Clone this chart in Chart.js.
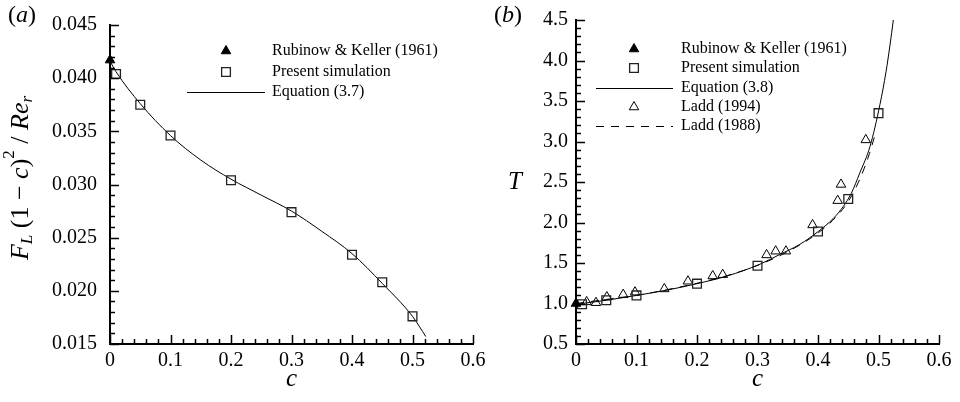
<!DOCTYPE html>
<html>
<head>
<meta charset="utf-8">
<script src="https://cdn.jsdelivr.net/npm/chart.js@4.4.1/dist/chart.umd.min.js"></script>
<style>
  html, body { margin: 0; padding: 0; background: #fff; }
  #wrap { position: relative; width: 960px; height: 402px; overflow: hidden; }
  #chartA { position: absolute; left: 0; top: 0; }
  #chartB { position: absolute; left: 480px; top: 0; }
</style>
</head>
<body>
<div id="wrap">
  <canvas id="chartA" width="500" height="402"></canvas>
  <canvas id="chartB" width="480" height="402"></canvas>
</div>
<script>
// ---- panel (a) ----
const rkA_c = [0];
const rkA_v = [0.0417];
const simA_c = [0.01, 0.05, 0.1, 0.2, 0.3, 0.4, 0.45, 0.5];
const simA_v = [0.0404, 0.0375, 0.0346, 0.0304, 0.0274, 0.0234, 0.0208, 0.0176];
const eqA_c = [0, 0.01, 0.05, 0.1, 0.15, 0.2, 0.25, 0.3, 0.35, 0.4, 0.45, 0.5, 0.522];
const eqA_v = [0.0416, 0.0406, 0.0376, 0.0346, 0.0323, 0.0305, 0.0290, 0.0275, 0.0256, 0.0235, 0.0207, 0.0176, 0.0157];
const xTicks = [0, 0.1, 0.2, 0.3, 0.4, 0.5, 0.6];
const yTicksA = [0.015, 0.020, 0.025, 0.030, 0.035, 0.040, 0.045];

// ---- panel (b) ----
const rkB_c = [0];
const rkB_v = [1.0];
const simB_c = [0.01, 0.05, 0.1, 0.2, 0.3, 0.4, 0.45, 0.5];
const simB_v = [0.99, 1.04, 1.10, 1.245, 1.465, 1.89, 2.29, 3.35];
const ladd94_c = [0.0176, 0.033, 0.051, 0.078, 0.0975, 0.146, 0.185, 0.226, 0.2425, 0.315, 0.33, 0.347, 0.391, 0.4325, 0.438, 0.479];
const ladd94_v = [1.02, 1.01, 1.08, 1.11, 1.14, 1.18, 1.275, 1.34, 1.356, 1.60, 1.646, 1.646, 1.97, 2.27, 2.47, 3.02];
const eqB_c = [0, 0.05, 0.1, 0.15, 0.2, 0.25, 0.304, 0.337, 0.37, 0.4005, 0.4253, 0.442, 0.455, 0.469, 0.486, 0.5025, 0.5124, 0.519, 0.5245];
const eqB_v = [0.99, 1.04, 1.10, 1.165, 1.245, 1.34, 1.485, 1.606, 1.73, 1.89, 2.05, 2.2, 2.36, 2.61, 2.94, 3.46, 3.86, 4.19, 4.5];
const ladd88_c = [0, 0.05, 0.1, 0.15, 0.2, 0.25, 0.3, 0.35, 0.4, 0.43, 0.45, 0.47, 0.485, 0.495];
const ladd88_v = [1.0, 1.05, 1.1, 1.17, 1.25, 1.345, 1.47, 1.64, 1.87, 2.07, 2.26, 2.55, 2.85, 3.1];
const yTicksB = [0.5, 1.0, 1.5, 2.0, 2.5, 3.0, 3.5, 4.0, 4.5];

const serif = "'Liberation Serif', 'DejaVu Serif', serif";

function pts(xs, ys) {
  return xs.map((x, i) => ({x: x, y: ys[i]}));
}

// draws a run of text pieces (for italics / sub / superscripts)
function drawRich(ctx, parts, cx, cy, rot) {
  ctx.save();
  ctx.translate(cx, cy);
  if (rot) ctx.rotate(rot);
  ctx.fillStyle = '#000';
  ctx.textBaseline = 'middle';
  ctx.textAlign = 'left';
  let w = 0;
  parts.forEach(p => {
    ctx.font = (p.it ? 'italic ' : '') + p.size + 'px ' + serif;
    p.w = ctx.measureText(p.t).width;
    w += p.w;
  });
  let x = -w / 2;
  parts.forEach(p => {
    ctx.font = (p.it ? 'italic ' : '') + p.size + 'px ' + serif;
    ctx.fillText(p.t, x, p.dy || 0);
    x += p.w;
  });
  ctx.restore();
}

const decor = {
  id: 'decor',
  afterDraw(chart, args, opts) {
    const ctx = chart.ctx;
    const xs = chart.scales.x, ys = chart.scales.y;
    ctx.save();
    ctx.strokeStyle = '#000';
    ctx.lineWidth = 1.5;
    ctx.beginPath();
    // inward ticks, major + minor
    const doTicks = (scale, n, horiz) => {
      const vals = scale.ticks.map(t => t.value);
      for (let i = 0; i < vals.length; i++) {
        const list = [[vals[i], 9]];
        if (i < vals.length - 1) {
          for (let k = 1; k < n; k++) list.push([vals[i] + (vals[i + 1] - vals[i]) * k / n, 5]);
        }
        list.forEach(([v, len]) => {
          const p = Math.round(scale.getPixelForValue(v)) + 0.5;
          if (horiz) {
            ctx.moveTo(p, xs.top);
            ctx.lineTo(p, xs.top - len);
          } else {
            ctx.moveTo(ys.right, p);
            ctx.lineTo(ys.right + len, p);
          }
        });
      }
    };
    doTicks(xs, 5, true);
    doTicks(ys, opts.minorY, false);
    ctx.stroke();
    ctx.restore();

    // legend
    const lg = opts.legend;
    ctx.save();
    chart.data.datasets.forEach((ds, i) => {
      const y = lg.rows[i];
      ctx.strokeStyle = ds.borderColor;
      ctx.fillStyle = ds.backgroundColor;
      ctx.lineWidth = ds.borderWidth;
      if (ds.showLine) {
        ctx.setLineDash(ds.borderDash || []);
        ctx.beginPath();
        ctx.moveTo(lg.line0, y + 0.5);
        ctx.lineTo(lg.line1, y + 0.5);
        ctx.stroke();
        ctx.setLineDash([]);
      } else {
        Chart.helpers.drawPoint(ctx, {pointStyle: ds.pointStyle, radius: ds.pointRadius, borderWidth: ds.borderWidth, rotation: 0}, lg.sym, y);
      }
      ctx.fillStyle = '#000';
      ctx.font = '16px ' + serif;
      ctx.textBaseline = 'middle';
      ctx.textAlign = 'left';
      ctx.fillText(ds.label, lg.text, y);
    });
    ctx.restore();

    // y title and panel tag
    drawRich(ctx, opts.yTitle, opts.yTitlePos[0], opts.yTitlePos[1], opts.yTitleRot);
    drawRich(ctx, [{t: '(', size: 24}, {t: opts.tag, size: 24, it: true}, {t: ')', size: 24}], opts.tagPos[0], opts.tagPos[1], 0);
  }
};

function buildOptions(o) {
  return {
    responsive: false,
    animation: false,
    events: [],
    layout: {padding: {top: 14, right: o.padRight, left: 0, bottom: 0}},
    scales: {
      x: {
        type: 'linear',
        min: 0, max: 0.6,
        afterBuildTicks: s => { s.ticks = xTicks.map(v => ({value: v})); },
        afterFit: s => { s.height = 58; },
        grid: {display: false, drawTicks: false},
        border: {display: true, color: '#000', width: 2},
        ticks: {
          color: '#000', padding: 5,
          font: {family: serif, size: 20},
          maxRotation: 0,
          callback: v => v === 0 ? '0' : v.toFixed(1)
        },
        title: {display: true, text: 'c', color: '#000', font: {family: serif, size: 25, style: 'italic'}, padding: {top: 4, bottom: 8}}
      },
      y: {
        type: 'linear',
        min: o.yMin, max: o.yMax,
        afterBuildTicks: s => { s.ticks = o.yTicks.map(v => ({value: v})); },
        afterFit: s => { s.width = o.yWidth; },
        grid: {display: false, drawTicks: false},
        border: {display: true, color: '#000', width: 2},
        ticks: {
          color: '#000', padding: o.yPad,
          font: {family: serif, size: 20},
          callback: v => v.toFixed(o.yDec)
        }
      }
    },
    plugins: {
      legend: {display: false},
      tooltip: {enabled: false},
      decor: o.decor
    }
  };
}

const lineStyle = {showLine: true, borderColor: '#000', backgroundColor: 'rgba(0,0,0,0)', borderWidth: 1, pointRadius: 0, cubicInterpolationMode: 'monotone', clip: false, order: 3};

new Chart(document.getElementById('chartA'), {
  type: 'scatter',
  data: {
    datasets: [
      {label: 'Rubinow & Keller (1961)', data: pts(rkA_c, rkA_v), pointStyle: 'triangle', pointRadius: 5.5, backgroundColor: '#000', borderColor: '#000', borderWidth: 1, clip: false, order: 1},
      {label: 'Present simulation', data: pts(simA_c, simA_v), pointStyle: 'rect', pointRadius: 6.2, backgroundColor: 'rgba(0,0,0,0)', borderColor: '#222', borderWidth: 1.3, clip: false, order: 1},
      Object.assign({label: 'Equation (3.7)', data: pts(eqA_c, eqA_v)}, lineStyle)
    ]
  },
  options: buildOptions({
    padRight: 27, yMin: 0.015, yMax: 0.045, yTicks: yTicksA, yWidth: 110, yPad: 13, yDec: 3,
    decor: {
      minorY: 5,
      legend: {sym: 226, line0: 187, line1: 265, text: 272, rows: [51, 72, 92]},
      yTitle: [
        {t: 'F', size: 26, it: true},
        {t: 'L', size: 17, it: true, dy: 7},
        {t: ' (1 \u2212 ', size: 26},
        {t: 'c', size: 26, it: true},
        {t: ')', size: 26},
        {t: '2', size: 17, dy: -11},
        {t: ' / ', size: 26},
        {t: 'Re', size: 26, it: true},
        {t: 'r', size: 17, it: true, dy: 7}
      ],
      yTitlePos: [21, 178], yTitleRot: -Math.PI / 2,
      tag: 'a', tagPos: [22, 16]
    }
  }),
  plugins: [decor]
});

new Chart(document.getElementById('chartB'), {
  type: 'scatter',
  data: {
    datasets: [
      {label: 'Rubinow & Keller (1961)', data: pts(rkB_c, rkB_v), pointStyle: 'triangle', pointRadius: 5.5, backgroundColor: '#000', borderColor: '#000', borderWidth: 1, clip: false, order: 1},
      {label: 'Present simulation', data: pts(simB_c, simB_v), pointStyle: 'rect', pointRadius: 6.2, backgroundColor: 'rgba(0,0,0,0)', borderColor: '#222', borderWidth: 1.3, clip: false, order: 1},
      Object.assign({label: 'Equation (3.8)', data: pts(eqB_c, eqB_v)}, lineStyle),
      {label: 'Ladd (1994)', data: pts(ladd94_c, ladd94_v), pointStyle: 'triangle', pointRadius: 5.5, backgroundColor: 'rgba(0,0,0,0)', borderColor: '#000', borderWidth: 1, clip: false, order: 1},
      Object.assign({label: 'Ladd (1988)', data: pts(ladd88_c, ladd88_v)}, lineStyle, {borderDash: [8, 7], order: 4})
    ]
  },
  options: buildOptions({
    padRight: 21, yMin: 0.5, yMax: 4.5, yTicks: yTicksB, yWidth: 96, yPad: 8, yDec: 1,
    decor: {
      minorY: 5,
      legend: {sym: 154, line0: 116, line1: 193, text: 201, rows: [49, 68, 88, 107, 126]},
      yTitle: [{t: 'T', size: 25, it: true}],
      yTitlePos: [35, 182], yTitleRot: 0,
      tag: 'b', tagPos: [28, 16]
    }
  }),
  plugins: [decor]
});
</script>
</body>
</html>
